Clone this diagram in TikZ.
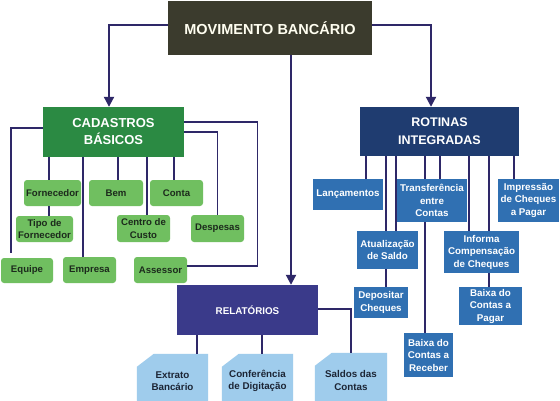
\documentclass[tikz,border=0pt]{standalone}
\usepackage{fontspec}
\setmainfont{Liberation Sans}
\usetikzlibrary{arrows.meta,backgrounds}
\definecolor{topc}{HTML}{3B3B2D}
\definecolor{cadc}{HTML}{2B8A43}
\definecolor{lgreen}{HTML}{70BF60}
\definecolor{rotc}{HTML}{1F3C70}
\definecolor{bluec}{HTML}{3070B2}
\definecolor{relc}{HTML}{3A3A8A}
\definecolor{lblue}{HTML}{9FCCEC}
\definecolor{linec}{HTML}{2E2868}
\definecolor{darktxt}{HTML}{1C2A1C}
\definecolor{reptxt}{HTML}{1C2535}
\begin{document}
\begin{tikzpicture}[x=1pt,y=-1pt,
  big/.style={inner sep=0pt, align=center, text=white, font=\bfseries},
  gbox/.style={fill=lgreen, rounded corners=3pt, inner sep=0pt, align=center, text=darktxt, font=\fontsize{9.6}{12.2}\selectfont\bfseries},
  bbox/.style={fill=bluec, inner sep=0pt, align=center, text=white, font=\fontsize{9.8}{12.5}\selectfont\bfseries},
  rbox/.style={inner sep=0pt, align=center, text=reptxt, font=\fontsize{9.8}{12.5}\selectfont\bfseries},
  conn/.style={draw=linec, line width=1.3pt},
  arr/.style={draw=linec, line width=2pt, -{Triangle[width=10pt,length=10pt]}}]
\clip (0,0) rectangle (560,400);
% main boxes
\node[big, fill=topc, minimum width=204pt, minimum height=54pt, font=\fontsize{14.5}{17}\selectfont\bfseries, text=white!94!yellow] (top) at (270,28) {MOVIMENTO BANCÁRIO};
\node[big, fill=cadc, minimum width=141pt, minimum height=50pt, font=\fontsize{13}{17}\selectfont\bfseries] (cad) at (113.5,132) {CADASTROS\\BÁSICOS};
\node[big, fill=rotc, minimum width=159pt, minimum height=49pt, font=\fontsize{12.5}{18}\selectfont\bfseries] (rot) at (439.5,131.5) {ROTINAS\\INTEGRADAS};
\node[big, fill=relc, minimum width=141pt, minimum height=50pt, font=\fontsize{9.8}{12}\selectfont\bfseries] (rel) at (247.5,310) {RELATÓRIOS};
% green boxes
\node[gbox, minimum width=57pt, minimum height=26pt] (forn) at (52.5,193) {Fornecedor};
\node[gbox, minimum width=57pt, minimum height=26pt] (tipo) at (44.5,229) {Tipo de\\Fornecedor};
\node[gbox, minimum width=52pt, minimum height=25pt] (equipe) at (27,270.5) {Equipe};
\node[gbox, minimum width=53pt, minimum height=26pt] (empresa) at (89.5,270) {Empresa};
\node[gbox, minimum width=54pt, minimum height=26pt] (bem) at (116,193) {Bem};
\node[gbox, minimum width=53pt, minimum height=27pt] (centro) at (143.5,228.5) {Centro de\\Custo};
\node[gbox, minimum width=53pt, minimum height=26pt] (conta) at (176.5,193) {Conta};
\node[gbox, minimum width=53pt, minimum height=27pt] (desp) at (217.5,228.5) {Despesas};
\node[gbox, minimum width=53pt, minimum height=26pt] (assessor) at (160.5,270) {Assessor};
% blue boxes
\node[bbox, minimum width=70pt, minimum height=31pt] (lanc) at (348,194.5) {Lançamentos};
\node[bbox, minimum width=70pt, minimum height=43pt] (transf) at (432,200.5) {Transferência\\entre\\Contas};
\node[bbox, minimum width=61pt, minimum height=43pt] (impr) at (528.5,200.5) {Impressão\\de Cheques\\a Pagar};
\node[bbox, minimum width=61pt, minimum height=38pt] (atual) at (387.5,250) {Atualização\\de Saldo};
\node[bbox, minimum width=54pt, minimum height=31pt] (depos) at (381,302.5) {Depositar\\Cheques};
\node[bbox, minimum width=49pt, minimum height=44pt] (receber) at (428.5,355) {Baixa do\\Contas a\\Receber};
\node[bbox, minimum width=75pt, minimum height=42pt] (informa) at (481.5,252) {Informa\\Compensação\\de Cheques};
\node[bbox, minimum width=63pt, minimum height=38pt] (pagar) at (490.5,306) {Baixa do\\Contas a\\Pagar};
% report boxes
\node[rbox, minimum width=71pt, minimum height=54pt] (extrato) at (172.5,381) {Extrato\\Bancário};
\node[rbox, minimum width=71pt, minimum height=54pt] (confer) at (257.5,381) {Conferência\\de Digitação};
\node[rbox, minimum width=72pt, minimum height=55pt] (saldos) at (351,380.5) {Saldos das\\Contas};
\begin{scope}[on background layer]
\fill[white] (0,0) rectangle (560,400);
\foreach \n in {extrato,confer,saldos}{
  \fill[lblue] ([yshift=-13pt]\n.north west) -- ([xshift=17pt]\n.north west) -- (\n.north east) -- (\n.south east) -- (\n.south west) -- cycle;
}
\end{scope}
% main arrows
\draw[arr] (top.west |- 0,25) -| ([xshift=-4.5pt]cad.north);
\draw[arr] (top.east |- 0,25) -| ([xshift=-8.5pt]rot.north);
\draw[arr] (top.south -| 291,0) -- (rel.north -| 291,0);
% cadastros
\draw[conn] (cad.west |- 0,128) -| ([yshift=5pt]equipe.north -| 11,0);
\draw[conn] (cad.south -| 49,0) -- (forn.north -| 49,0);
\draw[conn] (forn.south -| 49,0) -- (tipo.north -| 49,0);
\draw[conn] (cad.south -| 83,0) -- (empresa.north -| 83,0);
\draw[conn] (cad.south -| 118,0) -- (bem.north -| 118,0);
\draw[conn] (cad.south -| 147,0) -- (centro.north -| 147,0);
\draw[conn] (cad.south -| 174,0) -- (conta.north -| 174,0);
\draw[conn] (cad.east |- 0,132) -| (desp.north);
\draw[conn] (cad.east |- 0,122) -- ++(73,0) |- (assessor.east |- 0,266);
% rotinas
\draw[conn] (rot.south -| 366,0) -- (lanc.north -| 366,0);
\draw[conn] (rot.south -| 386,0) -- (atual.north -| 386,0);
\draw[conn] (rot.south -| 396,0) -- (atual.north -| 396,0);
\draw[conn] (rot.south -| 425,0) -- (transf.north -| 425,0);
\draw[conn] (transf.south -| 425,0) -- (receber.north -| 425,0);
\draw[conn] (rot.south -| 440,0) -- (transf.north -| 440,0);
\draw[conn] (rot.south -| 469,0) -- (informa.north -| 469,0);
\draw[conn] (rot.south -| 489,0) -- (informa.north -| 489,0);
\draw[conn] (informa.south -| 489,0) -- (pagar.north -| 489,0);
\draw[conn] (rot.south -| 514,0) -- (impr.north -| 514,0);
\draw[conn] (atual.south -| 386,0) -- (depos.north -| 386,0);
% relatorios
\draw[conn] (rel.south -| 197,0) -- (extrato.north -| 197,0);
\draw[conn] (rel.south -| 262,0) -- (confer.north -| 262,0);
\draw[conn] (rel.east |- 0,309) -| (saldos.north);
\end{tikzpicture}
\end{document}
